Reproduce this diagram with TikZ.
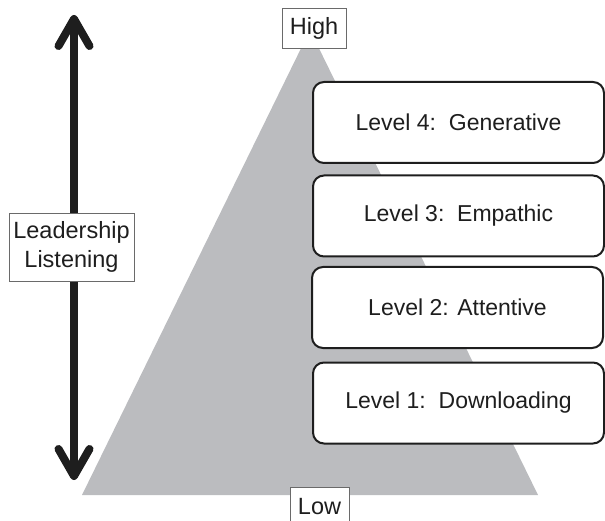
\documentclass[tikz,border=0pt]{standalone}
\usepackage{fontspec}
\setmainfont{Liberation Sans}
\usetikzlibrary{arrows.meta}
\definecolor{tri}{HTML}{BBBCBF}
\definecolor{ink}{HTML}{1E1E1E}
\definecolor{thin}{HTML}{6A6A6A}
\begin{document}
\begin{tikzpicture}[x=1pt,y=-1pt,
  levelbox/.style={draw=ink, line width=2pt, rounded corners=11pt, fill=white,
    minimum width=291pt, minimum height=81pt, inner sep=0pt, text=ink,
    font=\fontsize{23}{27}\selectfont},
  tagbox/.style={draw=thin, line width=0.9pt, fill=white, inner sep=0pt, text=ink,
    font=\fontsize{23.5}{27}\selectfont},
  bigarrow/.style={draw=ink, line width=8pt,
    {Straight Barb[round, length=27pt, width=31pt]}-{Straight Barb[round, length=27pt, width=31pt]}}
]
\useasboundingbox (0,0) rectangle (605,521);
% pyramid
\fill[tri] (310,30) -- (538,495) -- (82,495) -- cycle;
% double arrow
\coordinate (atop) at (74,15);
\coordinate (abot) at (74,480);
\draw[bigarrow] (abot) -- (atop);
% labels
\node[tagbox, minimum width=125pt, minimum height=68pt, align=center,
  font=\fontsize{23.5}{29}\selectfont] (lead) at (71.5,247) {Leadership\\Listening};
\node[tagbox, minimum width=64pt, minimum height=40pt] (high) at (314,28) {High};
\node[tagbox, minimum width=59pt, minimum height=40pt] (low) at (319.5,507) {Low};
% levels
\node[levelbox] (l4) at (458.5,122.5) {Level 4:\ \ Generative};
\node[levelbox] (l3) at (458.5,216) {Level 3:\ \ Empathic};
\node[levelbox] (l2) at (457.5,307.5) {Level 2: Attentive};
\node[levelbox] (l1) at (458.5,403) {Level 1:\ \ Downloading};
\end{tikzpicture}
\end{document}
